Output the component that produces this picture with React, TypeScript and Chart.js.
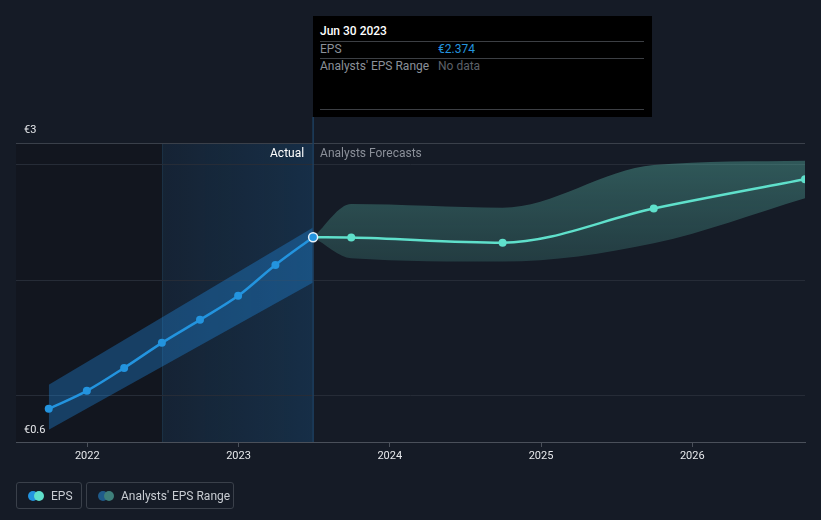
import React, { useEffect, useRef } from "react";
import { Chart, registerables } from "chart.js";

Chart.register(...registerables);

const actualDates = ["2021-09-30", "2021-12-31", "2022-03-31", "2022-06-30", "2022-09-30", "2022-12-31", "2023-03-31", "2023-06-30"];
const actualEps = [0.887, 1.043, 1.242, 1.459, 1.658, 1.866, 2.134, 2.374];
const pastRangeDates = ["2021-09-30", "2023-06-30"];
const pastRangeHigh = [1.095, 2.457];
const pastRangeLow = [0.706, 1.981];
const forecastDates = ["2023-06-30", "2023-09-30", "2024-09-30", "2025-09-30", "2026-09-30"];
const forecastEps = [2.374, 2.371, 2.327, 2.622, 2.876];
const forecastHigh = [2.374, 2.662, 2.63, 3.0, 3.037];
const forecastLow = [2.374, 2.192, 2.163, 2.322, 2.712];
const yearTicks = [2022, 2023, 2024, 2025, 2026];
const yGridValues = [1, 2, 3];
const yMin = 0.6;
const yMax = 3.19;
const xMinDate = "2021-07-13";
const xMaxDate = "2026-09-30";
const actualStartDate = "2022-07-01";
const todayDate = "2023-06-30";

const FONT = "Roboto, 'Noto Sans', sans-serif";
const BG = "#151b26";
const BLUE = "#2394df";
const TEAL = "#5fe0cb";

function toYear(d: string): number {
  const [y, m, day] = d.split("-").map(Number);
  const start = Date.UTC(y, 0, 1);
  const end = Date.UTC(y + 1, 0, 1);
  const t = Date.UTC(y, m - 1, day);
  return y + (t - start) / (end - start);
}

function pts(dates: string[], vals: number[]) {
  return dates.map((d, i) => ({ x: toYear(d), y: vals[i] }));
}

const regionsPlugin = {
  id: "regions",
  beforeDraw(chart: any) {
    const { ctx, chartArea, scales } = chart;
    const x = scales.x;
    const xs = x.getPixelForValue(toYear(actualStartDate));
    const xt = x.getPixelForValue(toYear(todayDate));
    ctx.save();
    ctx.fillStyle = "#12161f";
    ctx.fillRect(chartArea.left, chartArea.top, xs - chartArea.left, chartArea.bottom - chartArea.top);
    const g = ctx.createLinearGradient(xs, 0, xt, 0);
    g.addColorStop(0, "rgba(33,150,243,0.07)");
    g.addColorStop(1, "rgba(33,150,243,0.16)");
    ctx.fillStyle = g;
    ctx.fillRect(xs, chartArea.top, xt - xs, chartArea.bottom - chartArea.top);
    ctx.strokeStyle = "rgba(40,80,110,0.35)";
    ctx.lineWidth = 1;
    ctx.beginPath();
    ctx.moveTo(Math.round(xs) + 0.5, chartArea.top);
    ctx.lineTo(Math.round(xs) + 0.5, chartArea.bottom);
    ctx.stroke();
    ctx.restore();
  },
  afterDatasetsDraw(chart: any) {
    const { ctx, chartArea, scales } = chart;
    const xt = scales.x.getPixelForValue(toYear(todayDate));
    const yt = scales.y.getPixelForValue(actualEps[actualEps.length - 1]);
    ctx.save();
    ctx.strokeStyle = "#1d3f5e";
    ctx.lineWidth = 1.5;
    ctx.beginPath();
    ctx.moveTo(xt, 117);
    ctx.lineTo(xt, chartArea.bottom);
    ctx.stroke();
    ctx.beginPath();
    ctx.arc(xt, yt, 4.5, 0, Math.PI * 2);
    ctx.fillStyle = BLUE;
    ctx.fill();
    ctx.lineWidth = 1.5;
    ctx.strokeStyle = "#e8f2fa";
    ctx.stroke();
    ctx.font = `12px ${FONT}`;
    ctx.textBaseline = "middle";
    ctx.textAlign = "right";
    ctx.fillStyle = "#ffffff";
    ctx.fillText("Actual", xt - 9, 154);
    ctx.textAlign = "left";
    ctx.fillStyle = "#8b9099";
    ctx.fillText("Analysts Forecasts", xt + 7, 154);
    ctx.font = `11px ${FONT}`;
    ctx.fillStyle = "#e6e8eb";
    ctx.fillText("€3", 24, 130);
    ctx.fillText("€0.6", 24, 430);
    ctx.restore();
  },
};

function tealGradient(context: any) {
  const chart = context.chart;
  const { ctx, chartArea, scales } = chart;
  if (!chartArea) return "rgba(94,194,178,0.28)";
  const g = ctx.createLinearGradient(0, scales.y.getPixelForValue(3.0), 0, scales.y.getPixelForValue(2.16));
  g.addColorStop(0, "rgba(94,194,178,0.36)");
  g.addColorStop(1, "rgba(94,194,178,0.2)");
  return g;
}

export default function App() {
  const ref = useRef<HTMLCanvasElement>(null);
  useEffect(() => {
    if (!ref.current) return;
    const chart = new Chart(ref.current, {
      type: "line",
      data: {
        datasets: [
          {
            data: pts(actualDates, actualEps),
            borderColor: BLUE,
            backgroundColor: BLUE,
            borderWidth: 2.5,
            pointRadius: 4,
            pointBorderWidth: 0,
            cubicInterpolationMode: "monotone",
            fill: false,
          },
          {
            data: pts(forecastDates, forecastEps),
            borderColor: TEAL,
            backgroundColor: TEAL,
            borderWidth: 2.5,
            pointRadius: (c: any) => (c.dataIndex === 0 ? 0 : 4),
            pointBorderWidth: 0,
            cubicInterpolationMode: "monotone",
            fill: false,
          },
          {
            data: pts(pastRangeDates, pastRangeHigh),
            borderWidth: 0,
            borderColor: "transparent",
            pointRadius: 0,
            fill: false,
          },
          {
            data: pts(pastRangeDates, pastRangeLow),
            borderWidth: 0,
            borderColor: "transparent",
            pointRadius: 0,
            fill: 2,
            backgroundColor: "rgba(33,150,243,0.33)",
          },
          {
            data: pts(forecastDates, forecastHigh),
            borderWidth: 0,
            borderColor: "transparent",
            pointRadius: 0,
            cubicInterpolationMode: "monotone",
            fill: false,
          },
          {
            data: pts(forecastDates, forecastLow),
            borderWidth: 0,
            borderColor: "transparent",
            pointRadius: 0,
            cubicInterpolationMode: "monotone",
            fill: 4,
            backgroundColor: tealGradient,
          },
        ] as any,
      },
      options: {
        animation: false,
        responsive: false,
        maintainAspectRatio: false,
        layout: { padding: { top: 143, left: 16, right: 16, bottom: 0 } },
        plugins: { legend: { display: false }, tooltip: { enabled: false } },
        events: [],
        scales: {
          x: {
            type: "linear",
            min: toYear(xMinDate),
            max: toYear(xMaxDate),
            afterBuildTicks: (s: any) => {
              s.ticks = yearTicks.map((v) => ({ value: v }));
            },
            afterFit: (s: any) => {
              s.height = 78;
            },
            ticks: {
              autoSkip: false,
              maxRotation: 0,
              padding: 3,
              color: "#e6e8eb",
              font: { family: FONT, size: 11 },
              callback: (v: any) => String(v),
            },
            grid: { drawOnChartArea: false, drawTicks: true, tickLength: 5, color: "#4a505a" },
            border: { display: true, color: "#4a505a", width: 1 },
          },
          y: {
            type: "linear",
            min: yMin,
            max: yMax,
            afterBuildTicks: (s: any) => {
              s.ticks = [...yGridValues, yMax].map((v) => ({ value: v }));
            },
            afterFit: (s: any) => {
              s.width = 0;
            },
            ticks: { display: false },
            grid: {
              drawTicks: false,
              color: (c: any) => (c.tick && c.tick.value > 3.1 ? "#3a404a" : "#262c37"),
            },
            border: { display: false },
          },
        },
      } as any,
      plugins: [regionsPlugin],
    });
    return () => chart.destroy();
  }, []);

  const legendBox: React.CSSProperties = {
    position: "absolute",
    top: 482,
    height: 27,
    boxSizing: "border-box",
    border: "1px solid #3a404a",
    borderRadius: 3,
    display: "flex",
    alignItems: "center",
    color: "#c8ccd2",
    fontSize: 12,
    fontFamily: FONT,
  };
  const dot = (c: string, ml: number): React.CSSProperties => ({
    width: 10,
    height: 10,
    borderRadius: 5,
    background: c,
    marginLeft: ml,
    display: "inline-block",
  });
  const row: React.CSSProperties = { position: "absolute", left: 7, fontSize: 12, fontFamily: FONT, lineHeight: "14px" };

  return (
    <div style={{ position: "fixed", left: 0, top: 0, width: 821, height: 520, background: BG, overflow: "hidden" }}>
      <canvas ref={ref} width={821} height={520} style={{ position: "absolute", left: 0, top: 0 }} />
      <div style={{ position: "absolute", left: 313, top: 16, width: 339, height: 101, background: "#000" }}>
        <div style={{ ...row, top: 8, color: "#fff", fontWeight: 500 }}>Jun 30 2023</div>
        <div style={{ position: "absolute", left: 7, right: 8, top: 25, height: 1, background: "#3c3f44" }} />
        <div style={{ ...row, top: 26, color: "#8b9099" }}>EPS</div>
        <div style={{ ...row, top: 26, left: 125, color: BLUE }}>€2.374</div>
        <div style={{ position: "absolute", left: 7, right: 8, top: 42, height: 1, background: "#3c3f44" }} />
        <div style={{ ...row, top: 43, color: "#8b9099" }}>Analysts' EPS Range</div>
        <div style={{ ...row, top: 43, left: 125, color: "#5d6169" }}>No data</div>
        <div style={{ position: "absolute", left: 7, right: 8, top: 93, height: 1, background: "#3c3f44" }} />
      </div>
      <div style={{ ...legendBox, left: 16, width: 66 }}>
        <span style={dot(BLUE, 11)} />
        <span style={dot(TEAL, -4)} />
        <span style={{ marginLeft: 7 }}>EPS</span>
      </div>
      <div style={{ ...legendBox, left: 86, width: 148 }}>
        <span style={dot("#1f5b8a", 11)} />
        <span style={dot("#3e7f7a", -4)} />
        <span style={{ marginLeft: 7 }}>Analysts' EPS Range</span>
      </div>
    </div>
  );
}
